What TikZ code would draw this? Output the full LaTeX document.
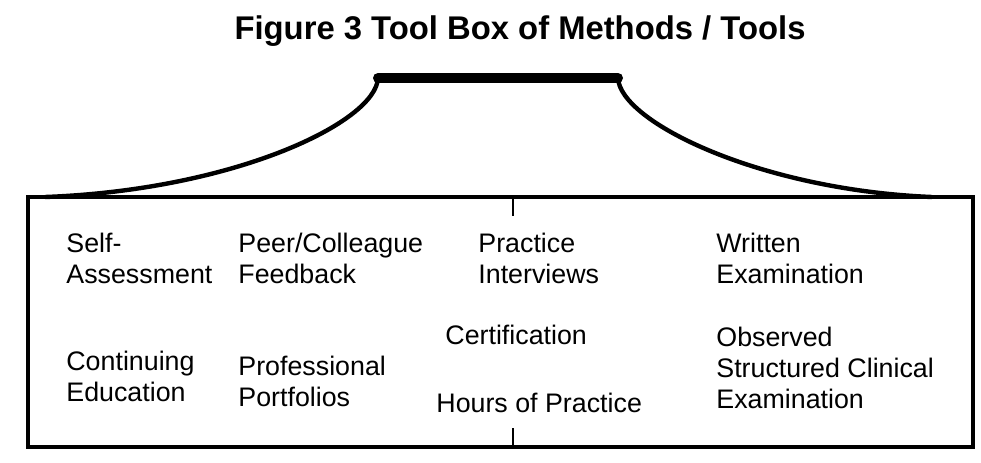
\documentclass[tikz,border=0pt]{standalone}
\usepackage{fontspec}
\setmainfont{Liberation Sans}
\usepackage{tikz}
\usetikzlibrary{calc}
\tikzset{
  boxline/.style={draw=black,line width=2.2pt},          % tool box outline
  handle/.style={draw=black,line width=5pt,line cap=round},
  strap/.style={draw=black,line width=2.2pt},            % curved sides of the lid
  tick/.style={draw=black,line width=0.9pt},
  tool/.style={anchor=west,align=left,inner sep=0pt,font=\fontsize{13.4pt}{15.5pt}\selectfont},
  ttl/.style={font=\bfseries\fontsize{16.4pt}{19pt}\selectfont,inner sep=0pt},
}
\begin{document}
\begin{tikzpicture}[x=0.5pt,y=-0.5pt]
  \useasboundingbox (0,0) rectangle (981,462);
  \node[ttl] (title) at (520,31) {Figure 3 Tool Box of Methods / Tools};
  % handle and lid
  \coordinate (hl) at (378,78); \coordinate (hr) at (618,78);
  \draw[strap] (hl) .. controls (376,122) and (235,190) .. (45,197);
  \draw[strap] (hr) .. controls (620,122) and (760,190) .. (932,197);
  \draw[handle] (hl) -- (hr);
  % the box
  \draw[boxline] (28,197) rectangle (973,447);
  \draw[tick] (513,197) -- (513,216);
  \draw[tick] (513,428) -- (513,447);
  % tools
  \node[tool] (self) at (66,258) {Self-\\Assessment};
  \node[tool] (peer) at (238,258) {Peer/Colleague\\Feedback};
  \node[tool] (intv) at (478,258) {Practice\\Interviews};
  \node[tool] (writ) at (716,258) {Written\\Examination};
  \node[tool] (cont) at (66,376) {Continuing\\Education};
  \node[tool] (port) at (238,381) {Professional\\Portfolios};
  \node[tool] (cert) at (445,335) {Certification};
  \node[tool] (hour) at (436,403) {Hours of Practice};
  \node[tool] (osce) at (716,368) {Observed\\Structured Clinical\\Examination};
\end{tikzpicture}
\end{document}
